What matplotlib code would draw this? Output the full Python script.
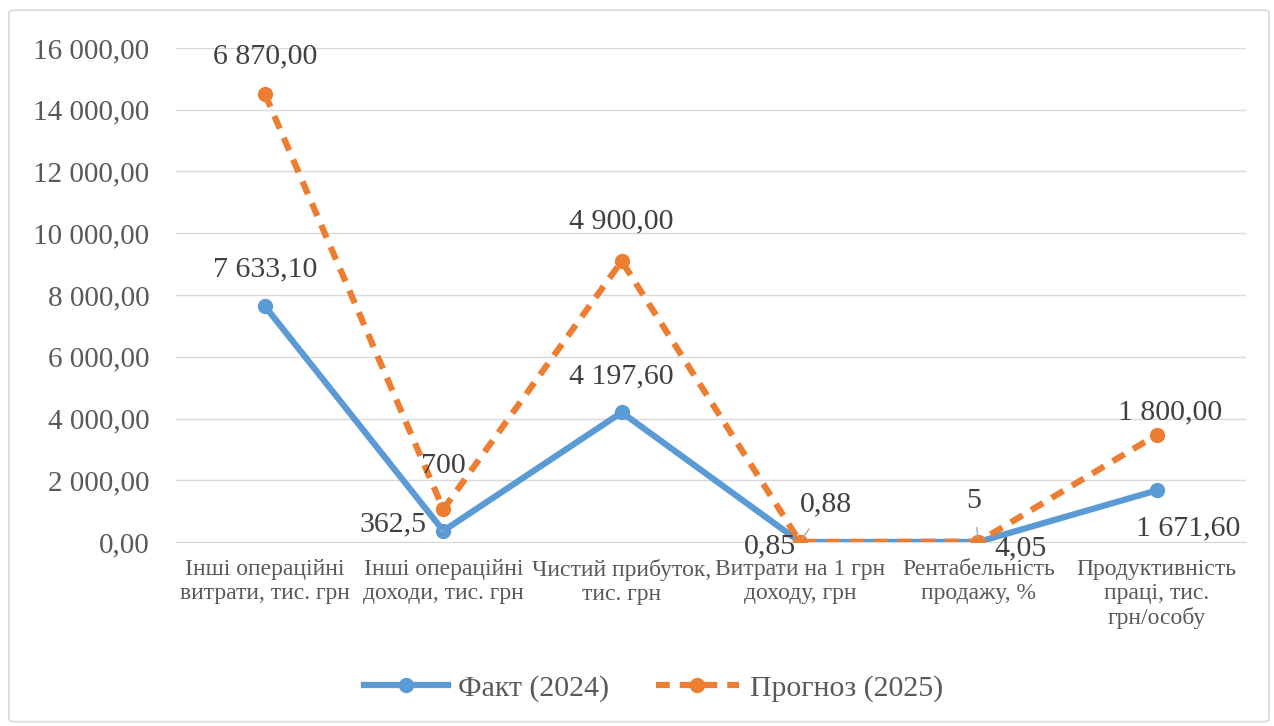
import matplotlib.pyplot as plt
import numpy as np
from matplotlib.patches import FancyBboxPatch

plt.rcParams['font.family'] = ['Liberation Serif', 'DejaVu Serif']

categories = ["Інші операційні\nвитрати, тис. грн", "Інші операційні\nдоходи, тис. грн",
              "Чистий прибуток,\nтис. грн", "Витрати на 1 грн\nдоходу, грн",
              "Рентабельність\nпродажу, %", "Продуктивність\nпраці, тис.\nгрн/особу"]
fact = [7633.10, 362.5, 4197.60, 0.85, 4.05, 1671.60]
forecast = [6870.00, 700.0, 4900.00, 0.88, 5.0, 1800.00]
fact_labels = ["7 633,10", "362,5", "4 197,60", "0,85", "4,05", "1 671,60"]
forecast_labels = ["6 870,00", "700", "4 900,00", "0,88", "5", "1 800,00"]
yticks = [0, 2000, 4000, 6000, 8000, 10000, 12000, 14000, 16000]

# накопичена лінія (stacked line, як в Excel)
stacked = np.array(fact) + np.array(forecast)

blue = "#5B9BD5"
orange = "#ED7D31"
txt = "#404040"
gray = "#595959"

fig = plt.figure(figsize=(12.74, 7.26), dpi=100)
ax = fig.add_axes([0.138, 0.2534, 0.840, 0.6806])
x = np.arange(len(categories))

ax.plot(x, fact, "-", color=blue, lw=4.5, marker="o", ms=10, label="Факт (2024)", zorder=3)
ax.plot(x, stacked, "--", color=orange, lw=4.5, marker="o", ms=10, dashes=(2.2, 1.6),
        label="Прогноз (2025)", zorder=4)

# зсуви підписів у пікселях
fact_off = [(0, 37), (-50, 6), (0, 36), (-30, -4), (42, -6), (31, -38)]
fc_off = [(0, 38), (0, 43), (0, 40), (26, 38), (-5, 41), (13, 22)]
fact_lead = [False, True, False, False, False, False]
fc_lead = [False, False, False, True, True, False]

def labels(ys, texts, offs, leads):
    for xi, yi, t, o, ld in zip(x, ys, texts, offs, leads):
        ap = dict(arrowstyle="-", color="#A6A6A6", lw=1, shrinkA=8, shrinkB=3) if ld else None
        ax.annotate(t, (xi, yi), xytext=o, textcoords="offset pixels", ha="center",
                    va="center", fontsize=21.5, color=txt, arrowprops=ap, zorder=5)

labels(fact, fact_labels, fact_off, fact_lead)
labels(stacked, forecast_labels, fc_off, fc_lead)

ax.set_xlim(-0.5, len(categories) - 0.5)
ax.set_ylim(0, 16000)
ax.set_yticks(yticks)
ax.set_yticklabels([f"{v:,.2f}".replace(",", " ").replace(".", ",") for v in yticks])
ax.set_xticks(x)
ax.set_xticklabels(categories, fontsize=17, color=gray, linespacing=1.2)
ax.tick_params(axis="y", labelsize=21, labelcolor=gray, length=0, pad=19)
ax.tick_params(axis="x", length=0, pad=12)
ax.grid(axis="y", color="#D9D9D9", lw=1)
ax.set_axisbelow(True)
for s in ["top", "right", "left"]:
    ax.spines[s].set_visible(False)
ax.spines["bottom"].set_color("#D9D9D9")

fig.legend(loc="center", bbox_to_anchor=(0.513, 0.052), ncol=2, frameon=False,
           fontsize=21.5, handlelength=2.8, handletextpad=0.35, columnspacing=1.55,
           labelcolor=gray)

fig.patches.append(FancyBboxPatch((0.007, 0.006), 0.989, 0.98, boxstyle="round,pad=0,rounding_size=0.004",
                                  transform=fig.transFigure, fill=False, ec="#D9D9D9", lw=1.2))

fig.savefig("out.png", dpi=100)
